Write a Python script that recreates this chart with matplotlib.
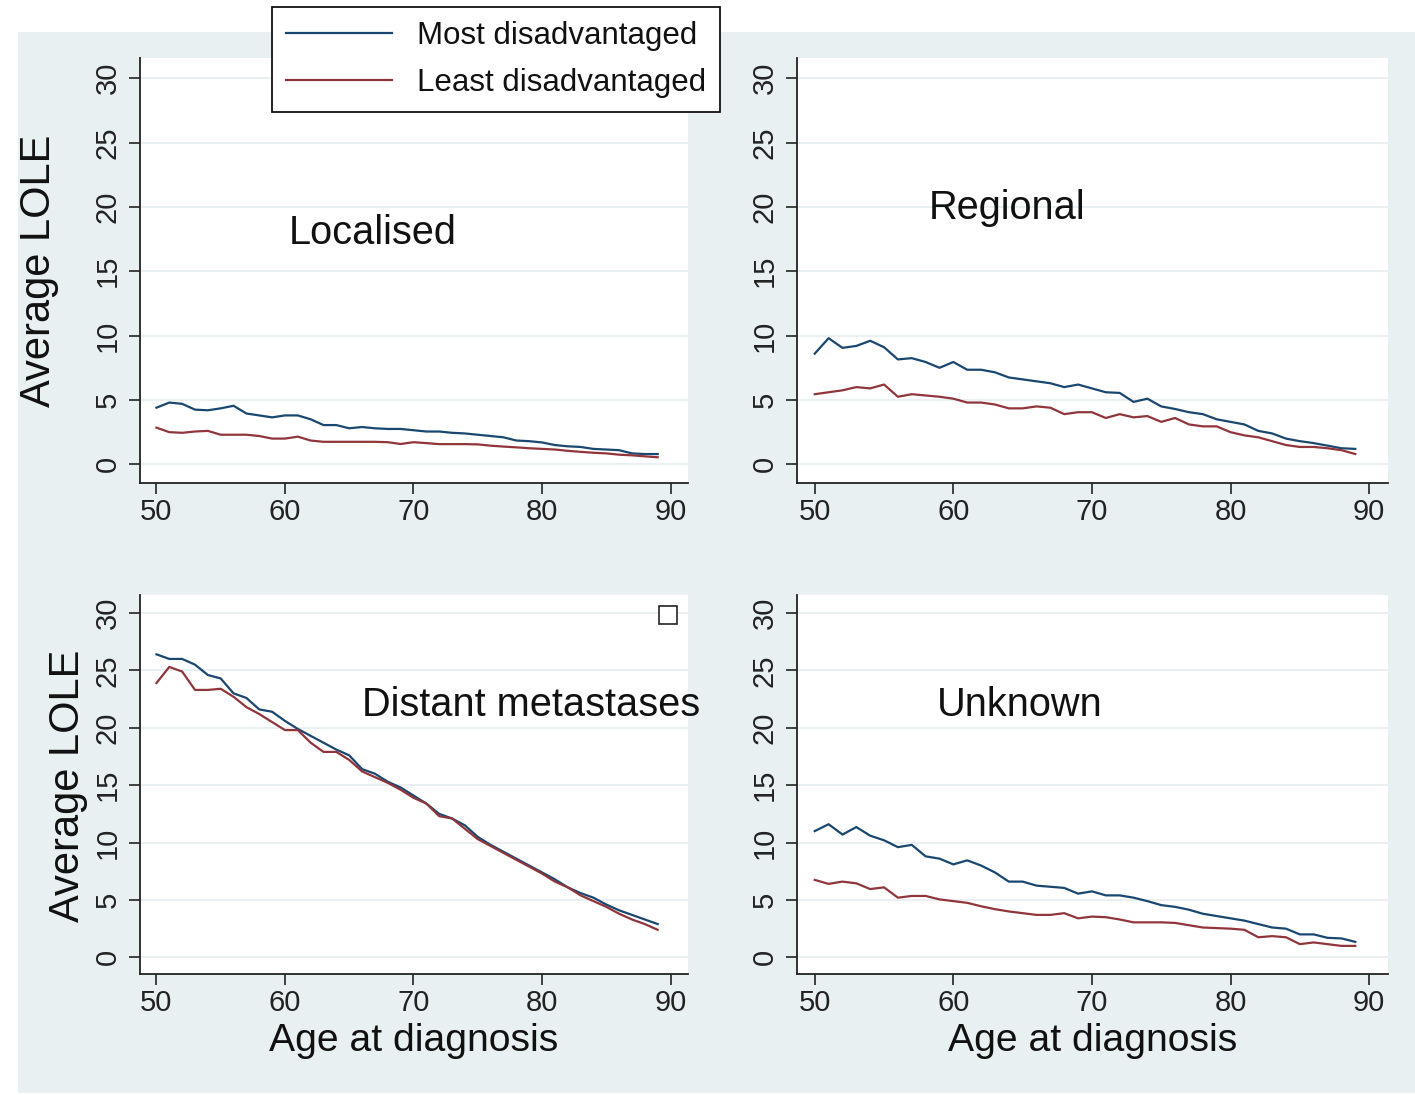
import matplotlib
matplotlib.use("Agg")
import matplotlib.pyplot as plt
from matplotlib.patches import Rectangle

plt.rcParams['font.family'] = ['Liberation Sans', 'DejaVu Sans']

ages = list(range(50, 90))

loc_most = [4.4, 4.8, 4.7, 4.25, 4.2, 4.35, 4.55, 3.95, 3.8, 3.65,
            3.8, 3.8, 3.5, 3.05, 3.05, 2.8, 2.9, 2.8, 2.75, 2.75,
            2.65, 2.55, 2.55, 2.45, 2.4, 2.3, 2.2, 2.1, 1.85, 1.8,
            1.7, 1.5, 1.4, 1.35, 1.2, 1.15, 1.1, 0.85, 0.8, 0.8]
loc_least = [2.85, 2.5, 2.45, 2.55, 2.6, 2.3, 2.3, 2.3, 2.2, 2.0,
             2.0, 2.15, 1.85, 1.75, 1.75, 1.75, 1.75, 1.75, 1.72, 1.58,
             1.72, 1.65, 1.57, 1.57, 1.57, 1.55, 1.45, 1.38, 1.32, 1.25,
             1.2, 1.15, 1.05, 0.97, 0.9, 0.85, 0.75, 0.7, 0.62, 0.55]

reg_most = [8.6, 9.8, 9.05, 9.2, 9.6, 9.1, 8.15, 8.25, 7.95, 7.5,
            7.95, 7.35, 7.35, 7.15, 6.75, 6.6, 6.45, 6.3, 6.0, 6.2,
            5.9, 5.6, 5.55, 4.85, 5.1, 4.5, 4.3, 4.05, 3.9, 3.5,
            3.3, 3.1, 2.6, 2.4, 2.0, 1.8, 1.65, 1.45, 1.25, 1.2]
reg_least = [5.45, 5.6, 5.75, 6.0, 5.9, 6.2, 5.25, 5.45, 5.35, 5.25,
             5.1, 4.8, 4.8, 4.65, 4.35, 4.35, 4.5, 4.4, 3.9, 4.05,
             4.05, 3.6, 3.9, 3.65, 3.75, 3.3, 3.6, 3.1, 2.95, 2.95,
             2.5, 2.25, 2.1, 1.8, 1.5, 1.35, 1.35, 1.25, 1.1, 0.8]

dist_most = [26.4, 26.0, 26.0, 25.5, 24.6, 24.3, 23.0, 22.6, 21.6, 21.4,
             20.6, 19.9, 19.3, 18.7, 18.1, 17.6, 16.4, 16.0, 15.3, 14.8,
             14.1, 13.4, 12.5, 12.1, 11.5, 10.5, 9.8, 9.2, 8.6, 8.0,
             7.4, 6.8, 6.1, 5.6, 5.2, 4.6, 4.1, 3.7, 3.3, 2.9]
dist_least = [23.9, 25.3, 24.9, 23.3, 23.3, 23.4, 22.7, 21.8, 21.2, 20.5,
              19.8, 19.8, 18.7, 17.9, 17.9, 17.2, 16.2, 15.7, 15.2, 14.6,
              13.9, 13.4, 12.3, 12.1, 11.2, 10.3, 9.7, 9.1, 8.5, 7.9,
              7.3, 6.6, 6.1, 5.4, 4.9, 4.4, 3.8, 3.3, 2.9, 2.4]

unk_most = [11.0, 11.6, 10.7, 11.35, 10.6, 10.2, 9.6, 9.8, 8.8, 8.6,
            8.1, 8.45, 8.0, 7.4, 6.6, 6.6, 6.25, 6.15, 6.05, 5.55,
            5.75, 5.4, 5.4, 5.2, 4.9, 4.55, 4.4, 4.15, 3.8, 3.6,
            3.4, 3.2, 2.9, 2.6, 2.5, 2.0, 2.0, 1.7, 1.65, 1.35]
unk_least = [6.75, 6.4, 6.6, 6.45, 5.95, 6.1, 5.2, 5.35, 5.35, 5.05,
             4.9, 4.75, 4.45, 4.2, 4.0, 3.85, 3.7, 3.7, 3.85, 3.4,
             3.55, 3.5, 3.3, 3.05, 3.05, 3.05, 3.0, 2.8, 2.6, 2.55,
             2.5, 2.4, 1.75, 1.85, 1.75, 1.15, 1.3, 1.15, 1.0, 1.0]

panel_titles = ["Localised", "Regional", "Distant metastases", "Unknown"]
series_labels = ["Most disadvantaged", "Least disadvantaged"]
x_ticks = [50, 60, 70, 80, 90]
y_ticks = [0, 5, 10, 15, 20, 25, 30]
stray_marker = (89.8, 29.8)

BLUE = "#1a476f"
RED = "#90353b"
BG = "#e9f0f2"
GRID = "#e6edf0"

W, H = 1415, 1095
fig = plt.figure(figsize=(W / 100, H / 100), dpi=100)
fig.patch.set_facecolor("white")
fig.patches.append(Rectangle((18 / W, 1 - 1093 / H), (W - 18) / W, (1093 - 32) / H,
                             transform=fig.transFigure, facecolor=BG,
                             edgecolor="none", zorder=-10))

def fx(px):
    return px / W

def fy(py):
    return 1 - py / H

positions = [
    (140, 688, 58, 483),
    (797, 1388, 58, 483),
    (140, 688, 595, 974),
    (797, 1388, 595, 974),
]
data = [(loc_most, loc_least), (reg_most, reg_least),
        (dist_most, dist_least), (unk_most, unk_least)]
title_pos = [(60.3, 18.0), (58.2, 19.9), (66.0, 21.95), (58.8, 21.95)]
ylabel_coords = {0: (-0.147, 0.50), 2: (-0.095, 0.496)}

axes = []
for i, (x0, x1, y0, y1) in enumerate(positions):
    ax = fig.add_axes([fx(x0), fy(y1), (x1 - x0) / W, (y1 - y0) / H])
    axes.append(ax)
    ax.set_facecolor("white")
    most, least = data[i]
    l1, = ax.plot(ages, most, color=BLUE, lw=1.6, zorder=3)
    l2, = ax.plot(ages, least, color=RED, lw=1.6, zorder=3)
    if i == 0:
        handles = [l1, l2]
    ax.set_xlim(48.72, 91.36)
    ax.set_ylim(-1.45, 31.57)
    ax.set_xticks(x_ticks)
    ax.set_yticks(y_ticks)
    ax.yaxis.grid(True, color=GRID, lw=1.2)
    ax.set_axisbelow(True)
    for s in ["top", "right"]:
        ax.spines[s].set_visible(False)
    for s in ["left", "bottom"]:
        ax.spines[s].set_color("#222222")
        ax.spines[s].set_linewidth(1.3)
    ax.tick_params(axis="both", labelsize=21, length=8, width=1.2,
                   color="#222222", labelcolor="#222222")
    ax.tick_params(axis="x", pad=3)
    ax.tick_params(axis="y", pad=5)
    for lab in ax.get_yticklabels():
        lab.set_rotation(90)
        lab.set_va("center")
    ax.text(title_pos[i][0], title_pos[i][1], panel_titles[i], fontsize=28.6,
            ha="left", va="center", color="#111111")
    if i in (0, 2):
        ax.set_ylabel("Average LOLE", fontsize=30, color="#111111")
        ax.yaxis.set_label_coords(*ylabel_coords[i])
    if i in (2, 3):
        ax.set_xlabel("Age at diagnosis", fontsize=28.2, color="#111111", labelpad=4)

axes[2].plot([stray_marker[0]], [stray_marker[1]], marker="s", markersize=13,
             markerfacecolor="white", markeredgecolor="#222222",
             markeredgewidth=1.2, clip_on=False, zorder=4)

leg = fig.legend(handles, series_labels, loc="upper left",
                 bbox_to_anchor=(fx(272), fy(7)), fontsize=22.5,
                 frameon=True, fancybox=False, edgecolor="#111111",
                 framealpha=1, handlelength=3.4, handletextpad=0.78,
                 borderpad=0.45, labelspacing=0.55, borderaxespad=0)
leg.get_frame().set_linewidth(1.3)
for t in leg.get_texts():
    t.set_color("#111111")

fig.savefig("out.png", dpi=100, facecolor="white")
